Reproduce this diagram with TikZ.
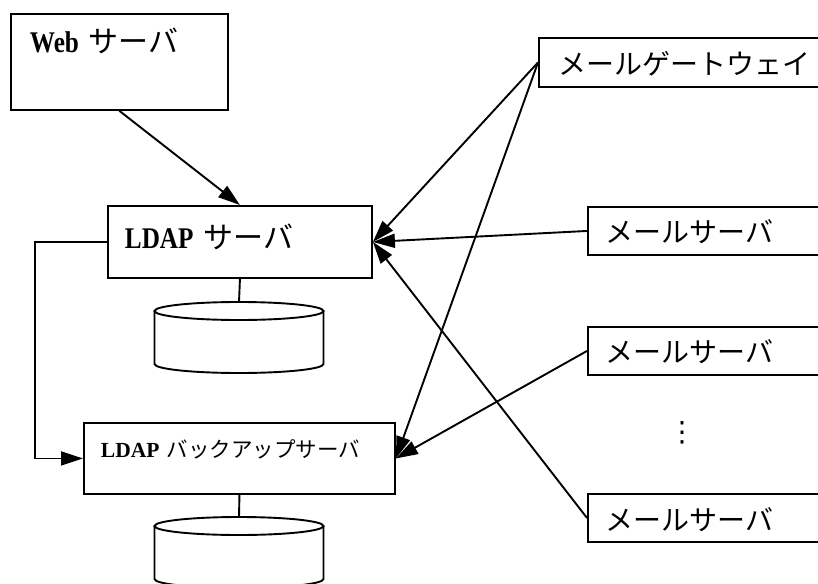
\documentclass[tikz,border=0pt]{standalone}
\usepackage{fontspec}
\setmainfont{Liberation Serif}
\newfontfamily\narrowserif[FakeStretch=0.84]{Liberation Serif}
\newfontfamily\jp{Noto Sans CJK JP}
\newfontfamily\symfont{DejaVu Sans}
\usetikzlibrary{arrows.meta}

\newcommand{\jtext}[1]{{\mdseries\jp #1}}

\begin{document}
\begin{tikzpicture}[
x=1pt, y=-1pt,
>={Triangle[length=22pt,width=14pt]},
line width=1.9pt,
srv/.style={draw, anchor=north west, inner ysep=0pt, align=left},
mail/.style={srv, inner xsep=18pt, text width=217pt, text height=36pt, text depth=12pt, font=\jp\fontsize{28}{32}\selectfont},
]
\path[use as bounding box, clip] (0,0) rectangle (818,583);

% LDAP side
\node[srv, inner xsep=19pt, text width=179pt, text height=39pt, text depth=57pt, font=\narrowserif\bfseries\fontsize{30}{36}\selectfont] (web) at (10,13) {Web \jtext{サーバ}};
\node[srv, inner xsep=17pt, text width=230pt, text height=43pt, text depth=29pt, font=\narrowserif\bfseries\fontsize{30}{36}\selectfont] (ldap) at (107,205) {LDAP \jtext{サーバ}};
\node[srv, inner xsep=17pt, text width=277pt, text height=35pt, text depth=36pt, font=\bfseries\fontsize{21.5}{26}\selectfont] (backup) at (83,422) {LDAP \jtext{バックアップサーバ}};

% databases under the two LDAP servers
\foreach \y/\name in {302/db1, 517/db2} {
  \coordinate (\name) at (239,\y);
  \draw (239,\y+9) ellipse [x radius=84.5pt, y radius=9pt];
  \draw (154.5,\y+9) -- (154.5,\y+62)
    arc [start angle=180, end angle=360, x radius=84.5pt, y radius=9pt] -- (323.5,\y+9);
}

% mail side
\node[srv, inner xsep=20pt, text width=260pt, text height=37pt, text depth=12pt, font=\jp\fontsize{28}{32}\selectfont] (gateway) at (538,37) {メールゲートウェイ};
\node[mail] (mail1) at (587,206) {メールサーバ};
\node[mail] (mail2) at (587,326) {メールサーバ};
\node[mail, text height=37pt, text depth=11pt] (mail3) at (587,493) {メールサーバ};
\node[font=\symfont\fontsize{28}{32}\selectfont] (more) at (682,433) {⋮};

\draw[->] (web.south) -- (ldap.north);
\draw[->] (ldap.west) -- ++(-72,0) |- (backup.west);
\draw (ldap.south) -- (db1);
\draw (backup.south) -- (db2);

\draw[->] (gateway.west) -- (ldap.east);
\draw[->] (gateway.west) -- (backup.east);
\draw[->] (mail1.west) -- (ldap.east);
\draw[->] (mail2.west) -- (backup.east);
\draw[->] (mail3.west) -- (ldap.east);
\end{tikzpicture}
\end{document}
